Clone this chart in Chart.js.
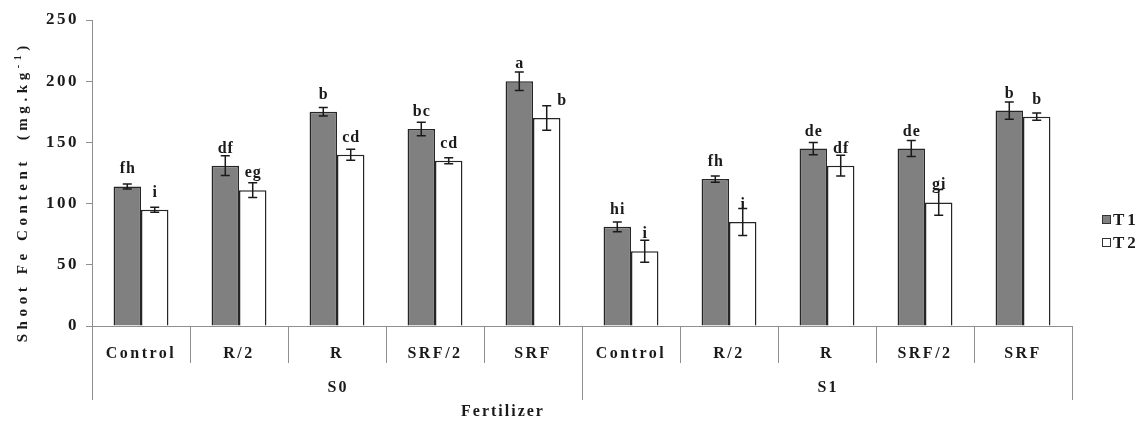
<!DOCTYPE html>
<html>
<head>
<meta charset="utf-8">
<script src="https://cdn.jsdelivr.net/npm/chart.js@4.4.1/dist/chart.umd.min.js"></script>
<style>
  html, body { margin: 0; padding: 0; background: #ffffff; }
  #wrap { width: 1143px; height: 421px; position: relative; }
</style>
</head>
<body>
<div id="wrap"><canvas id="chart" width="1143" height="421"></canvas></div>
<script>
// Fertilizer treatments, repeated for each salinity level
const categories = ['Control', 'R/2', 'R', 'SRF/2', 'SRF', 'Control', 'R/2', 'R', 'SRF/2', 'SRF'];
const groups = ['S0', 'S1'];
const seriesNames = ['T1', 'T2'];

// Shoot Fe content (mg.kg-1) and standard errors
const t1Values = [114, 131, 175, 161, 200, 81, 120, 145, 145, 176];
const t1Errors = [2, 8, 3.5, 5.5, 7.5, 4, 2.5, 5, 6.5, 7];
const t2Values = [95, 111, 140, 135, 170, 61, 85, 131, 101, 171];
const t2Errors = [2, 6, 4.5, 2.5, 10, 9, 11, 8.5, 10.5, 3];

// Mean-separation letters
const t1Letters = ['fh', 'df', 'b', 'bc', 'a', 'hi', 'fh', 'de', 'de', 'b'];
const t2Letters = ['i', 'eg', 'cd', 'cd', 'b', 'i', 'i', 'df', 'gi', 'b'];

const yTicks = [0, 50, 100, 150, 200, 250];

const SERIF = "'Liberation Serif', 'Times New Roman', serif";
const AXIS_GREY = '#8f8f8f';
const INK = '#1a1a1a';

// a letter that would sit on its error bar is nudged sideways
const letterShift = { '1-4': 15 };

// centred text with letter spacing (trailing gap removed from the centring)
function spacedText(ctx, text, x, y, spacing, align) {
  ctx.letterSpacing = spacing + 'px';
  const w = ctx.measureText(text).width - spacing;
  ctx.textAlign = 'left';
  let sx = x;
  if (align === 'center') sx = x - w / 2;
  else if (align === 'right') sx = x - w;
  ctx.fillText(text, sx, y);
  return w + spacing;
}

const wideType = {
  id: 'wideType',
  beforeDraw(chart) { chart.ctx.letterSpacing = '2.5px'; }
};

const errorBarsAndLetters = {
  id: 'errorBarsAndLetters',
  afterDatasetsDraw(chart) {
    const ctx = chart.ctx;
    const y = chart.scales.y;
    const errs = [t1Errors, t2Errors];
    const letters = [t1Letters, t2Letters];
    chart.data.datasets.forEach((ds, d) => {
      const meta = chart.getDatasetMeta(d);
      meta.data.forEach((bar, i) => {
        const v = ds.data[i];
        const e = errs[d][i];
        const yTop = y.getPixelForValue(v + e);
        const yBot = y.getPixelForValue(v - e);
        ctx.save();
        ctx.strokeStyle = INK;
        ctx.lineWidth = 1.5;
        ctx.beginPath();
        ctx.moveTo(bar.x, yTop); ctx.lineTo(bar.x, yBot);
        ctx.moveTo(bar.x - 4.5, yTop); ctx.lineTo(bar.x + 4.5, yTop);
        ctx.moveTo(bar.x - 4.5, yBot); ctx.lineTo(bar.x + 4.5, yBot);
        ctx.stroke();
        ctx.fillStyle = INK;
        ctx.font = 'bold 16px ' + SERIF;
        ctx.textBaseline = 'alphabetic';
        const dx = letterShift[d + '-' + i] || 0;
        spacedText(ctx, letters[d][i], bar.x + dx, bar.y - 13, 1, 'center');
        ctx.restore();
      });
    });
  }
};

const groupAxisAndTitles = {
  id: 'groupAxisAndTitles',
  afterDraw(chart) {
    const ctx = chart.ctx;
    const x = chart.scales.x;
    const area = chart.chartArea;
    const per = categories.length / groups.length;
    ctx.save();
    ctx.strokeStyle = AXIS_GREY;
    ctx.lineWidth = 1;
    // long separators between salinity groups
    for (let g = 0; g <= groups.length; g++) {
      const px = Math.round(x.getPixelForValue(g * per - 0.5)) + 0.5;
      ctx.beginPath();
      ctx.moveTo(px, area.bottom);
      ctx.lineTo(px, area.bottom + 74);
      ctx.stroke();
    }
    ctx.fillStyle = INK;
    ctx.font = 'bold 16px ' + SERIF;
    ctx.textBaseline = 'middle';
    groups.forEach((g, k) => {
      const left = x.getPixelForValue(k * per - 0.5);
      const right = x.getPixelForValue((k + 1) * per - 0.5);
      spacedText(ctx, g, (left + right) / 2, 388, 2, 'center');
    });
    // x-axis title
    spacedText(ctx, 'Fertilizer', 502, 412, 2, 'center');

    // y-axis title with superscript
    ctx.translate(22, 194);
    ctx.rotate(-Math.PI / 2);
    const main = 'Shoot Fe Content  (mg.kg';
    const sup = '-1';
    const tail = ')';
    const sp = 4.6;
    ctx.letterSpacing = sp + 'px';
    ctx.font = 'bold 15px ' + SERIF;
    const wMain = ctx.measureText(main).width;
    const wTail = ctx.measureText(tail).width - sp;
    ctx.font = 'bold 10px ' + SERIF;
    const wSup = ctx.measureText(sup).width;
    const total = wMain + wSup + wTail;
    let cx = -total / 2;
    ctx.textAlign = 'left';
    ctx.textBaseline = 'alphabetic';
    ctx.font = 'bold 15px ' + SERIF;
    ctx.fillText(main, cx, 5);
    cx += wMain;
    ctx.font = 'bold 10px ' + SERIF;
    ctx.fillText(sup, cx, -1);
    cx += wSup;
    ctx.font = 'bold 15px ' + SERIF;
    ctx.fillText(tail, cx, 5);
    ctx.restore();

    // legend
    ctx.save();
    ctx.font = 'bold 17px ' + SERIF;
    ctx.textBaseline = 'middle';
    chart.data.datasets.forEach((ds, d) => {
      const cy = 220 + d * 23;
      ctx.fillStyle = ds.backgroundColor;
      ctx.fillRect(1102.5, cy - 4.5, 8, 8);
      ctx.strokeStyle = '#333333';
      ctx.lineWidth = 1;
      ctx.strokeRect(1102.5, cy - 4.5, 8, 8);
      ctx.fillStyle = INK;
      spacedText(ctx, ds.label, 1113, cy + 1, 3, 'left');
    });
    ctx.restore();
  }
};

new Chart(document.getElementById('chart'), {
  type: 'bar',
  data: {
    labels: categories,
    datasets: [
      { label: seriesNames[0], data: t1Values, backgroundColor: '#808080', borderColor: '#262626', borderWidth: 1.5 },
      { label: seriesNames[1], data: t2Values, backgroundColor: '#ffffff', borderColor: '#262626', borderWidth: 1.5 }
    ]
  },
  options: {
    responsive: false,
    animation: false,
    layout: { padding: { left: 0, right: 71, top: 20, bottom: 0 } },
    datasets: { bar: { categoryPercentage: 0.56, barPercentage: 1.0 } },
    plugins: { legend: { display: false }, tooltip: { enabled: false } },
    scales: {
      x: {
        grid: { offset: true, drawOnChartArea: false, drawTicks: true, tickLength: 37, color: AXIS_GREY, lineWidth: 1 },
        border: { color: AXIS_GREY, width: 1 },
        ticks: { color: INK, font: { family: SERIF, size: 16, weight: 'bold' }, padding: -19, maxRotation: 0, autoSkip: false },
        afterFit(scale) { scale.height = 95; }
      },
      y: {
        min: 0, max: 250,
        afterBuildTicks(scale) { scale.ticks = yTicks.map(v => ({ value: v })); },
        grid: { drawOnChartArea: false, drawTicks: true, tickLength: 6, color: AXIS_GREY },
        border: { color: AXIS_GREY, width: 1 },
        ticks: { color: INK, font: { family: SERIF, size: 17, weight: 'bold' }, padding: 7 },
        afterFit(scale) { scale.width = 92; }
      }
    }
  },
  plugins: [wideType, errorBarsAndLetters, groupAxisAndTitles]
});
</script>
</body>
</html>
